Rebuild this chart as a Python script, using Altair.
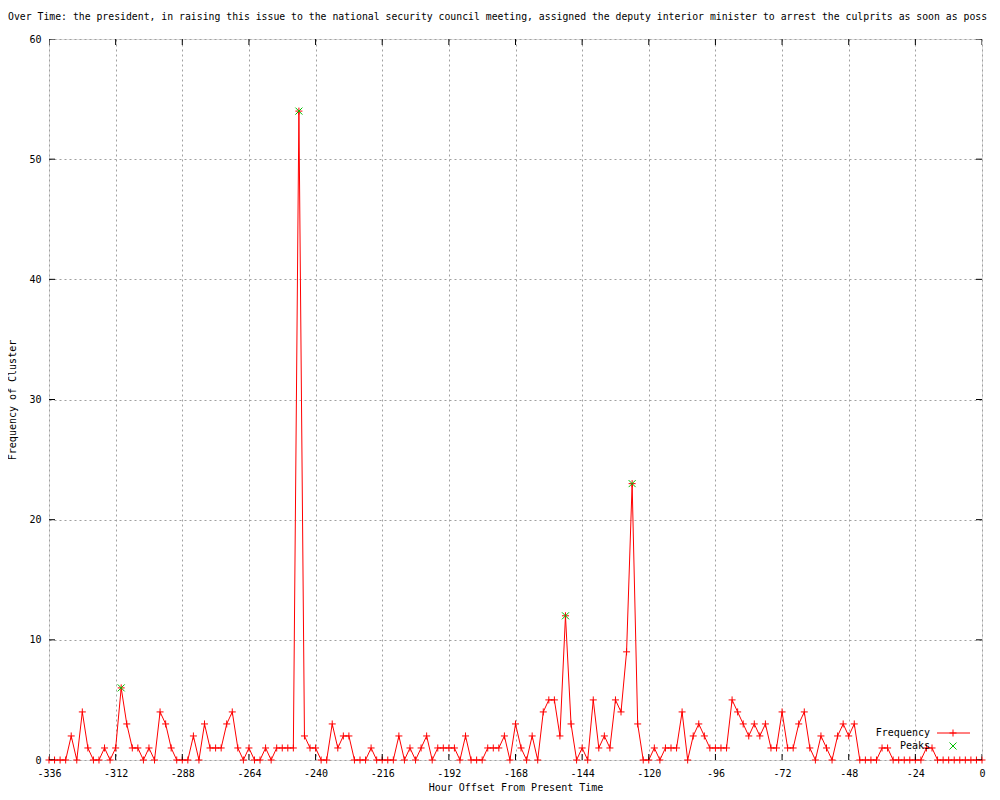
import altair as alt
import pandas as pd

title_text = ("Over Time: the president, in raising this issue to the national security "
              "council meeting, assigned the deputy interior minister to arrest the culprits as soon as poss")

# hour offsets (2-hour bins) from -336 to 0
hours = list(range(-336, 1, 2))
frequency = [
    0, 0, 0, 0, 2, 0, 4, 1, 0, 0, 1, 0,        # -336 .. -314
    1, 6, 3, 1, 1, 0, 1, 0, 4, 3, 1, 0,        # -312 .. -290
    0, 0, 2, 0, 3, 1, 1, 1, 3, 4, 1, 0,        # -288 .. -266
    1, 0, 0, 1, 0, 1, 1, 1, 1, 54, 2, 1,       # -264 .. -242
    1, 0, 0, 3, 1, 2, 2, 0, 0, 0, 1, 0,        # -240 .. -218
    0, 0, 0, 2, 0, 1, 0, 1, 2, 0, 1, 1,        # -216 .. -194
    1, 1, 0, 2, 0, 0, 0, 1, 1, 1, 2, 0,        # -192 .. -170
    3, 1, 0, 2, 0, 4, 5, 5, 2, 12, 3, 0,       # -168 .. -146
    1, 0, 5, 1, 2, 1, 5, 4, 9, 23, 3, 0,       # -144 .. -122
    0, 1, 0, 1, 1, 1, 4, 0, 2, 3, 2, 1,        # -120 .. -98
    1, 1, 1, 5, 4, 3, 2, 3, 2, 3, 1, 1,        # -96 .. -74
    4, 1, 1, 3, 4, 1, 0, 2, 1, 0, 2, 3,        # -72 .. -50
    2, 3, 0, 0, 0, 0, 1, 1, 0, 0, 0, 0,        # -48 .. -26
    0, 0, 1, 1, 0, 0, 0, 0, 0, 0, 0, 0,        # -24 .. -2
    0,                                         # 0
]
assert len(hours) == len(frequency)

peak_hours = [-310, -246, -150, -126]
peak_values = [6, 54, 12, 23]

x_ticks = [-336, -312, -288, -264, -240, -216, -192, -168, -144, -120, -96, -72, -48, -24, 0]
y_ticks = [0, 10, 20, 30, 40, 50, 60]

legend_labels = ["Frequency", "Peaks"]

FONT = "DejaVu Sans Mono"
RED = "#ff0000"
GREEN = "#00c000"
PLUS = "M-1,0L1,0M0,-1L0,1"
CROSS = "M-1,-1L1,1M-1,1L1,-1"

W, H = 933, 721

df = pd.DataFrame({"hour": hours, "frequency": frequency})
peaks = pd.DataFrame({"hour": peak_hours, "frequency": peak_values})
xt = pd.DataFrame({"hour": x_ticks})
yt = pd.DataFrame({"frequency": y_ticks})

x_enc = alt.X(
    "hour:Q",
    scale=alt.Scale(domain=[-336, 0], nice=False, zero=False),
    axis=alt.Axis(
        values=x_ticks, grid=True, gridColor="#a0a0a0", gridDash=[2, 3], gridWidth=1,
        ticks=False, tickSize=0, domain=False,
        labelExpr="datum.value + ''", labelFont=FONT, labelFontSize=10, labelColor="black",
        labelPadding=8, labelFlush=False, labelOverlap=False,
        title="Hour Offset From Present Time", titleFont=FONT, titleFontSize=10,
        titleFontWeight="normal", titleColor="black",
        titleX=W / 2, titleY=30, titleAlign="center", titleBaseline="alphabetic",
    ),
)
y_enc = alt.Y(
    "frequency:Q",
    scale=alt.Scale(domain=[0, 60], nice=False, zero=True),
    axis=alt.Axis(
        values=y_ticks, grid=True, gridColor="#a0a0a0", gridDash=[2, 3], gridWidth=1,
        ticks=False, tickSize=0, domain=False,
        labelFont=FONT, labelFontSize=10, labelColor="black",
        labelPadding=8, labelFlush=False, labelOverlap=False,
        title="Frequency of Cluster", titleFont=FONT, titleFontSize=10,
        titleFontWeight="normal", titleColor="black",
        titleAngle=270, titleX=-34, titleY=H / 2, titleAlign="center", titleBaseline="alphabetic",
    ),
)

line = alt.Chart(df).mark_line(color=RED, strokeWidth=1).encode(x=x_enc, y=y_enc)
pts = alt.Chart(df).mark_point(shape=PLUS, size=49, filled=False, color=RED,
                               strokeWidth=1, opacity=1).encode(x="hour:Q", y="frequency:Q")
pk = alt.Chart(peaks).mark_point(shape=CROSS, size=49, filled=False, color=GREEN,
                                 strokeWidth=1, opacity=1).encode(x="hour:Q", y="frequency:Q")

tick_style = dict(size=12, thickness=1, color="black", clip=True, opacity=1)
xt_bottom = alt.Chart(xt).mark_tick(orient="vertical", **tick_style).encode(x="hour:Q", y=alt.datum(0))
xt_top = alt.Chart(xt).mark_tick(orient="vertical", **tick_style).encode(x="hour:Q", y=alt.datum(60))
yt_left = alt.Chart(yt).mark_tick(orient="horizontal", **tick_style).encode(y="frequency:Q", x=alt.datum(-336))
yt_right = alt.Chart(yt).mark_tick(orient="horizontal", **tick_style).encode(y="frequency:Q", x=alt.datum(0))

one = alt.Data(values=[{}])
leg_y1, leg_y2 = 694, 707
leg_text_x = 881
leg_t1 = alt.Chart(one).mark_text(text=legend_labels[0], font=FONT, fontSize=10, align="right",
                                  baseline="middle", color="black").encode(
    x=alt.value(leg_text_x), y=alt.value(leg_y1))
leg_t2 = alt.Chart(one).mark_text(text=legend_labels[1], font=FONT, fontSize=10, align="right",
                                  baseline="middle", color="black").encode(
    x=alt.value(leg_text_x), y=alt.value(leg_y2))
leg_line = alt.Chart(one).mark_rule(color=RED, strokeWidth=1).encode(
    x=alt.value(888), x2=alt.value(921), y=alt.value(leg_y1))
leg_plus = alt.Chart(one).mark_point(shape=PLUS, size=49, filled=False, color=RED,
                                     strokeWidth=1, opacity=1).encode(
    x=alt.value(904), y=alt.value(leg_y1))
leg_cross = alt.Chart(one).mark_point(shape=CROSS, size=49, filled=False, color=GREEN,
                                      strokeWidth=1, opacity=1).encode(
    x=alt.value(904), y=alt.value(leg_y2))

chart = alt.layer(
    line, pts, pk, xt_bottom, xt_top, yt_left, yt_right,
    leg_t1, leg_t2, leg_line, leg_plus, leg_cross,
).properties(
    width=W, height=H,
    autosize=alt.AutoSizeParams(type="none"),
    padding={"left": 41, "top": 31, "right": 10, "bottom": 31},
    title=alt.TitleParams(
        text=title_text, anchor="start", frame="group", dx=-41, offset=4,
        baseline="alphabetic", font=FONT, fontSize=9.8, fontWeight="normal", color="black",
    ),
).configure_view(
    stroke="black", strokeWidth=1, fill="white"
).configure(background="white")

chart.save("out.html", embed_options={"renderer": "svg", "actions": False})
